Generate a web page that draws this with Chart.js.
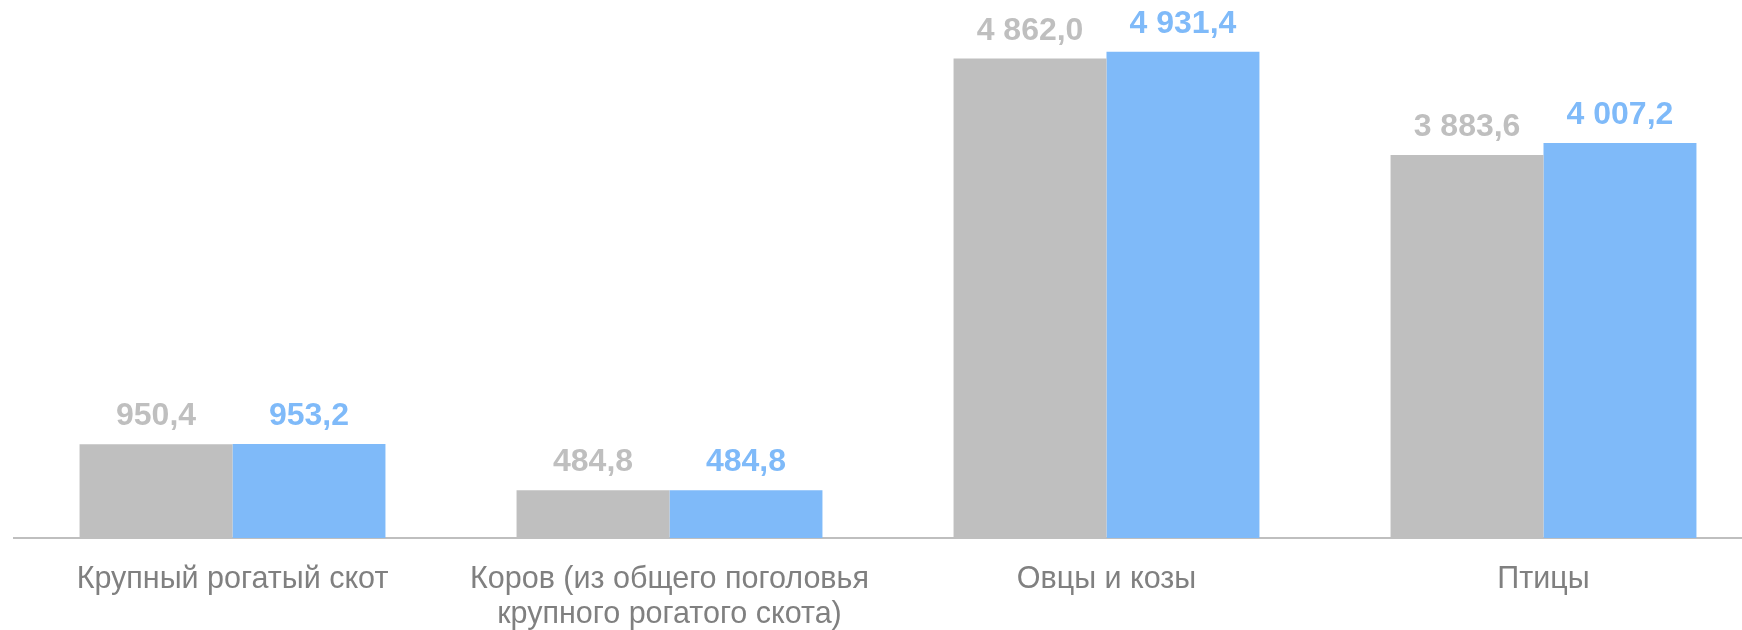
<!DOCTYPE html>
<html lang="ru">
<head>
<meta charset="utf-8">
<title>Поголовье скота и птицы</title>
<script src="https://cdn.jsdelivr.net/npm/chart.js@4.4.1/dist/chart.umd.min.js"></script>
<style>
    body { margin: 0; background: #fff; }
    .chart-wrap { width: 1742px; height: 630px; overflow: hidden; }
</style>
</head>
<body>
<div class="chart-wrap">
    <canvas id="livestockChart" width="1762" height="630"></canvas>
</div>
<script>
// Data
const categories = [
    'Крупный рогатый скот',
    ['Коров (из общего поголовья', 'крупного рогатого скота)'],
    'Овцы и козы',
    'Птицы'
];
const previousValues = [950.4, 484.8, 4862.0, 3883.6];
const currentValues = [953.2, 484.8, 4931.4, 4007.2];

const grayColor = '#bfbfbf';
const blueColor = '#7fbaf9';

// 4 862,0 style numbers
const formatValue = (v) => {
    const parts = v.toFixed(1).split('.');
    parts[0] = parts[0].replace(/\B(?=(\d{3})+(?!\d))/g, ' ');
    return parts.join(',');
};

// Value labels above the bars
const valueLabels = {
    id: 'valueLabels',
    afterDatasetsDraw(chart) {
        const c = chart.ctx;
        c.save();
        c.font = 'bold 32px "Liberation Sans", Arial, sans-serif';
        c.textAlign = 'center';
        c.textBaseline = 'alphabetic';
        chart.data.datasets.forEach((ds, i) => {
            const meta = chart.getDatasetMeta(i);
            c.fillStyle = ds.labelColor;
            meta.data.forEach((bar, j) => {
                c.fillText(formatValue(ds.data[j]), bar.x, bar.y - 19);
            });
        });
        c.restore();
    }
};

const ctx = document.getElementById('livestockChart');

new Chart(ctx, {
    type: 'bar',
    data: {
        labels: categories,
        datasets: [
            {
                label: 'Предыдущий период',
                data: previousValues,
                backgroundColor: grayColor,
                labelColor: grayColor,
                categoryPercentage: 0.7,
                barPercentage: 1.0
            },
            {
                label: 'Текущий период',
                data: currentValues,
                backgroundColor: blueColor,
                labelColor: blueColor,
                categoryPercentage: 0.7,
                barPercentage: 1.0
            }
        ]
    },
    options: {
        responsive: false,
        animation: false,
        layout: { padding: { left: 14, right: 0, top: 45, bottom: 0 } },
        plugins: {
            legend: { display: false },
            tooltip: { enabled: false }
        },
        scales: {
            x: {
                grid: { display: false, drawTicks: false },
                border: { display: true, color: grayColor, width: 2 },
                ticks: {
                    color: '#808080',
                    padding: 24,
                    maxRotation: 0,
                    autoSkip: false,
                    font: { family: '"Liberation Sans", Arial, sans-serif', size: 30.5, lineHeight: 1.15 }
                },
                afterFit: (scale) => { scale.height = 92; }
            },
            y: {
                display: false,
                min: 0,
                max: 5000
            }
        }
    },
    plugins: [valueLabels]
});
</script>
</body>
</html>
